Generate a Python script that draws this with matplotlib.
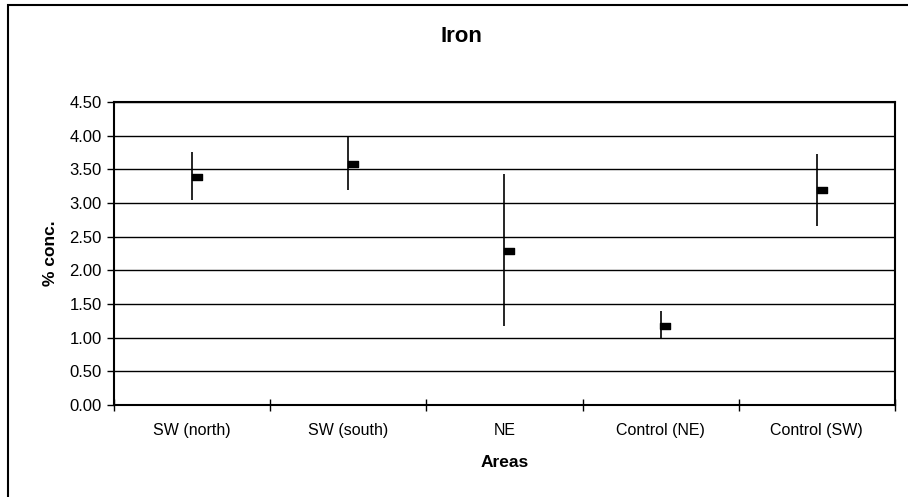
import numpy as np
import matplotlib.pyplot as plt
from matplotlib.patches import Rectangle

# Iron concentration by area (mean with error range)
areas = ['SW (north)', 'SW (south)', 'NE', 'Control (NE)', 'Control (SW)']
means = [3.39, 3.58, 2.29, 1.18, 3.19]
lows = [3.05, 3.19, 1.17, 0.98, 2.66]
highs = [3.75, 3.98, 3.43, 1.39, 3.73]

plt.rcParams['font.family'] = ['Liberation Sans', 'DejaVu Sans']

fig = plt.figure(figsize=(9.08, 4.97), dpi=100)
ax = fig.add_axes([0.1256, 0.185, 0.860, 0.610])

x = np.arange(len(areas))
means_arr = np.array(means)
yerr = [means_arr - np.array(lows), np.array(highs) - means_arr]

# error bars, no caps
ax.errorbar(x, means, yerr=yerr, fmt='none', ecolor='black', elinewidth=1.2, capsize=0, zorder=3)

# small rectangular dash marker like Excel
dash = [(-1, -0.6), (1, -0.6), (1, 0.6), (-1, 0.6), (-1, -0.6)]
ax.plot(x + 0.03, means, linestyle='none', marker=dash, markersize=7,
        color='black', zorder=4)

ax.set_xlim(-0.5, len(areas) - 0.5)
ax.set_ylim(0, 4.5)
ax.set_yticks(np.arange(0, 4.51, 0.5))
ax.set_yticklabels([f'{v:.2f}' for v in np.arange(0, 4.51, 0.5)], fontsize=12)

ax.set_xticks(x)
ax.set_xticklabels(areas, fontsize=11.5)
ax.set_xticks(np.arange(-0.5, len(areas), 1.0), minor=True)
ax.tick_params(axis='x', which='major', length=0, pad=13)
ax.tick_params(axis='x', which='minor', direction='inout', length=8, width=1)
ax.tick_params(axis='y', direction='out', length=5, width=1, pad=4)

ax.yaxis.grid(True, color='black', linewidth=1)
ax.set_axisbelow(True)

for side in ['left', 'bottom', 'top', 'right']:
    ax.spines[side].set_linewidth(1.5)
    ax.spines[side].set_color('black')

ax.set_xlabel('Areas', fontsize=12.5, fontweight='bold', labelpad=12)
ax.set_ylabel('% conc.', fontsize=12.5, fontweight='bold', labelpad=8)
fig.text(461 / 908, 1 - 36 / 497, 'Iron', fontsize=16, fontweight='bold',
         ha='center', va='center')

# chart area frame (left and top edges visible in the scan)
fig.patches.append(Rectangle((8 / 908, -0.05), 1.1, 1.05 - 5 / 497,
                             transform=fig.transFigure, fill=False,
                             edgecolor='black', linewidth=1.5))

fig.savefig('out.png', dpi=100)
